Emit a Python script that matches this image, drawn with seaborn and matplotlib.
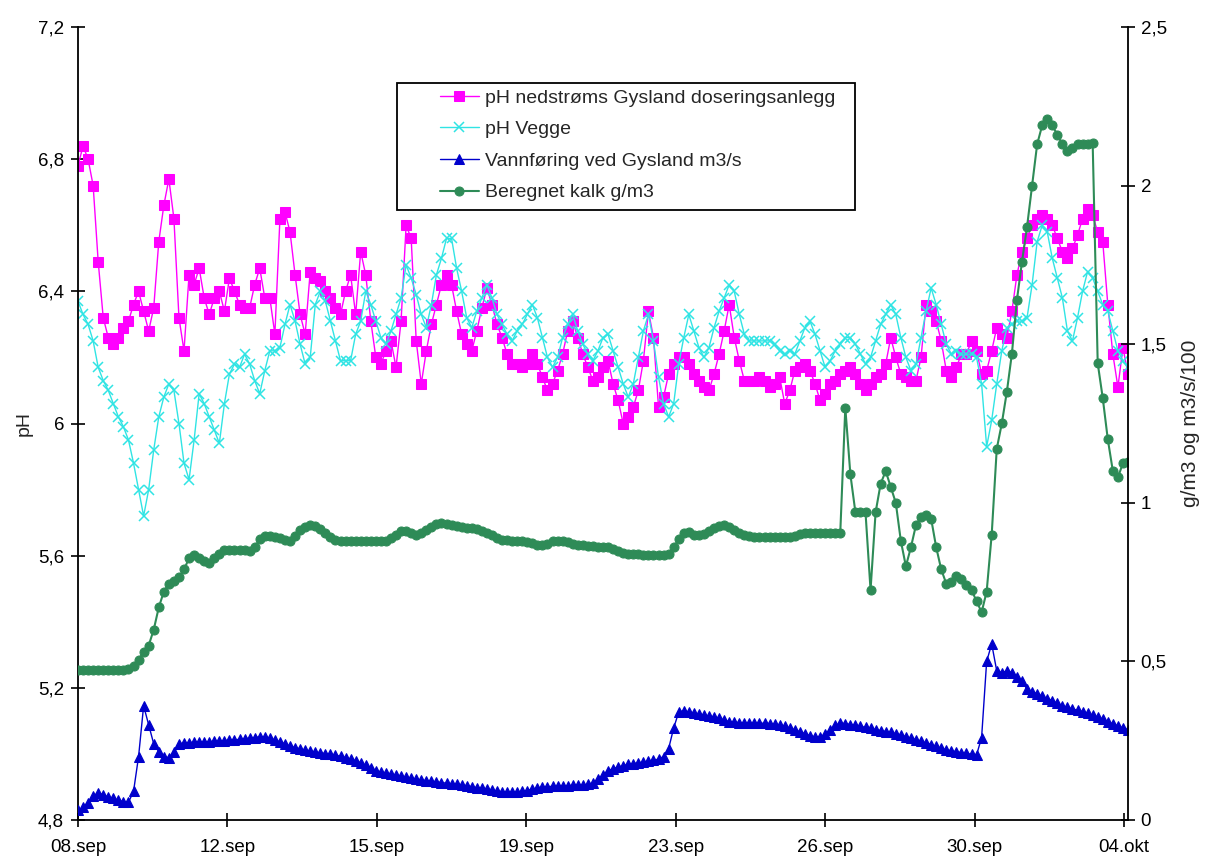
import numpy as np
import matplotlib
matplotlib.use("Agg")
import matplotlib.pyplot as plt
import seaborn as sns
from matplotlib.patches import Rectangle

# time axis: days after 08.sep, every 3 hours
days = np.arange(209) * 0.125

ph_gysland = [
    6.78, 6.84, 6.80, 6.72, 6.49, 6.32, 6.26, 6.24,
    6.26, 6.29, 6.31, 6.36, 6.40, 6.34, 6.28, 6.35,
    6.55, 6.66, 6.74, 6.62, 6.32, 6.22, 6.45, 6.42,
    6.47, 6.38, 6.33, 6.38, 6.40, 6.34, 6.44, 6.40,
    6.36, 6.35, 6.35, 6.42, 6.47, 6.38, 6.38, 6.27,
    6.62, 6.64, 6.58, 6.45, 6.33, 6.27, 6.46, 6.44,
    6.43, 6.40, 6.38, 6.35, 6.33, 6.40, 6.45, 6.33,
    6.52, 6.45, 6.31, 6.20, 6.18, 6.22, 6.25, 6.17,
    6.31, 6.60, 6.56, 6.25, 6.12, 6.22, 6.30, 6.36,
    6.42, 6.45, 6.42, 6.34, 6.27, 6.24, 6.22, 6.28,
    6.35, 6.41, 6.36, 6.30, 6.26, 6.21, 6.18, 6.18,
    6.17, 6.18, 6.21, 6.18, 6.14, 6.10, 6.12, 6.16,
    6.21, 6.28, 6.31, 6.26, 6.21, 6.17, 6.13, 6.14,
    6.17, 6.19, 6.12, 6.07, 6.00, 6.02, 6.05, 6.10,
    6.19, 6.34, 6.26, 6.05, 6.08, 6.15, 6.18, 6.20,
    6.20, 6.18, 6.15, 6.13, 6.11, 6.10, 6.15, 6.21,
    6.28, 6.36, 6.26, 6.19, 6.13, 6.13, 6.13, 6.14,
    6.13, 6.11, 6.12, 6.14, 6.06, 6.10, 6.16, 6.17,
    6.18, 6.16, 6.12, 6.07, 6.09, 6.12, 6.13, 6.15,
    6.16, 6.17, 6.15, 6.12, 6.10, 6.12, 6.14, 6.15,
    6.18, 6.26, 6.20, 6.15, 6.14, 6.13, 6.13, 6.20,
    6.36, 6.34, 6.31, 6.25, 6.16, 6.14, 6.17, 6.21,
    6.21, 6.25, 6.22, 6.15, 6.16, 6.22, 6.29, 6.27,
    6.26, 6.34, 6.45, 6.52, 6.56, 6.60, 6.62, 6.63,
    6.62, 6.60, 6.56, 6.52, 6.50, 6.53, 6.57, 6.62,
    6.65, 6.63, 6.58, 6.55, 6.36, 6.21, 6.11, 6.23,
    6.15]

ph_vegge = [
    6.37, 6.33, 6.30, 6.25, 6.17, 6.13, 6.10, 6.06,
    6.02, 5.99, 5.95, 5.88, 5.80, 5.72, 5.80, 5.92,
    6.02, 6.08, 6.12, 6.10, 6.00, 5.88, 5.83, 5.95,
    6.09, 6.06, 6.02, 5.98, 5.94, 6.06, 6.15, 6.18,
    6.17, 6.21, 6.18, 6.13, 6.09, 6.16, 6.22, 6.22,
    6.23, 6.30, 6.36, 6.31, 6.24, 6.18, 6.20, 6.36,
    6.40, 6.37, 6.31, 6.25, 6.19, 6.19, 6.19, 6.27,
    6.31, 6.40, 6.36, 6.31, 6.26, 6.24, 6.28, 6.33,
    6.38, 6.48, 6.44, 6.39, 6.33, 6.29, 6.36, 6.45,
    6.50, 6.56, 6.56, 6.47, 6.40, 6.32, 6.29, 6.34,
    6.38, 6.42, 6.38, 6.33, 6.30, 6.27, 6.25, 6.28,
    6.30, 6.33, 6.36, 6.32, 6.26, 6.20, 6.17, 6.20,
    6.26, 6.30, 6.33, 6.28, 6.24, 6.21, 6.19, 6.22,
    6.26, 6.27, 6.22, 6.17, 6.12, 6.08, 6.12, 6.20,
    6.28, 6.33, 6.25, 6.14, 6.06, 6.02, 6.06, 6.18,
    6.26, 6.33, 6.28, 6.23, 6.20, 6.23, 6.29, 6.34,
    6.38, 6.42, 6.40, 6.33, 6.27, 6.25, 6.25, 6.25,
    6.25, 6.25, 6.24, 6.22, 6.21, 6.22, 6.21, 6.25,
    6.29, 6.31, 6.27, 6.22, 6.17, 6.19, 6.22, 6.24,
    6.26, 6.26, 6.24, 6.21, 6.18, 6.20, 6.25, 6.30,
    6.33, 6.36, 6.33, 6.26, 6.20, 6.16, 6.18, 6.26,
    6.34, 6.41, 6.36, 6.30, 6.24, 6.21, 6.22, 6.21,
    6.21, 6.21, 6.20, 6.12, 5.93, 6.01, 6.12, 6.22,
    6.29, 6.30, 6.31, 6.31, 6.32, 6.42, 6.55, 6.60,
    6.58, 6.50, 6.44, 6.38, 6.28, 6.25, 6.32, 6.40,
    6.46, 6.44, 6.40, 6.36, 6.34, 6.28, 6.22, 6.19,
    6.17]

vannforing = [
    0.030, 0.040, 0.055, 0.075, 0.085, 0.080, 0.072, 0.068,
    0.062, 0.058, 0.056, 0.090, 0.200, 0.360, 0.300, 0.240,
    0.215, 0.200, 0.196, 0.215, 0.240, 0.243, 0.244, 0.245,
    0.246, 0.246, 0.247, 0.248, 0.249, 0.250, 0.252, 0.253,
    0.254, 0.256, 0.258, 0.260, 0.262, 0.262, 0.258, 0.252,
    0.246, 0.240, 0.233, 0.228, 0.224, 0.220, 0.217, 0.214,
    0.212, 0.209, 0.207, 0.204, 0.201, 0.197, 0.192, 0.187,
    0.180, 0.172, 0.164, 0.156, 0.150, 0.147, 0.144, 0.141,
    0.138, 0.135, 0.132, 0.129, 0.126, 0.124, 0.122, 0.120,
    0.118, 0.116, 0.114, 0.112, 0.110, 0.108, 0.105, 0.102,
    0.100, 0.097, 0.094, 0.091, 0.089, 0.088, 0.088, 0.088,
    0.090, 0.093, 0.097, 0.101, 0.104, 0.105, 0.106, 0.107,
    0.107, 0.108, 0.109, 0.110, 0.110, 0.112, 0.117, 0.128,
    0.142, 0.155, 0.162, 0.167, 0.171, 0.175, 0.178, 0.180,
    0.182, 0.185, 0.188, 0.192, 0.200, 0.225, 0.290, 0.340,
    0.345, 0.340, 0.336, 0.333, 0.330, 0.327, 0.324, 0.320,
    0.315, 0.310, 0.308, 0.307, 0.306, 0.305, 0.305, 0.305,
    0.305, 0.304, 0.302, 0.299, 0.295, 0.290, 0.284, 0.278,
    0.272, 0.266, 0.262, 0.262, 0.270, 0.285, 0.298, 0.305,
    0.304, 0.301, 0.298, 0.295, 0.292, 0.289, 0.285, 0.282,
    0.279, 0.276, 0.272, 0.268, 0.263, 0.258, 0.253, 0.248,
    0.243, 0.238, 0.232, 0.226, 0.221, 0.218, 0.215, 0.212,
    0.210, 0.207, 0.205, 0.260, 0.500, 0.555, 0.470, 0.465,
    0.470, 0.465, 0.452, 0.438, 0.412, 0.405, 0.398, 0.390,
    0.383, 0.376, 0.368, 0.360, 0.355, 0.350, 0.346, 0.342,
    0.336, 0.330, 0.325, 0.318, 0.310, 0.303, 0.297, 0.290,
    0.284]

kalk = [
    0.473, 0.473, 0.473, 0.473, 0.473, 0.473, 0.473, 0.473,
    0.473, 0.473, 0.475, 0.485, 0.505, 0.530, 0.550, 0.600,
    0.670, 0.720, 0.745, 0.755, 0.765, 0.790, 0.825, 0.835,
    0.825, 0.815, 0.810, 0.825, 0.840, 0.850, 0.852, 0.850,
    0.850, 0.850, 0.848, 0.860, 0.885, 0.895, 0.895, 0.893,
    0.888, 0.882, 0.880, 0.895, 0.915, 0.925, 0.930, 0.928,
    0.918, 0.905, 0.893, 0.882, 0.880, 0.880, 0.880, 0.880,
    0.880, 0.880, 0.880, 0.880, 0.879, 0.880, 0.888, 0.900,
    0.912, 0.912, 0.905, 0.900, 0.905, 0.915, 0.925, 0.932,
    0.935, 0.933, 0.930, 0.927, 0.924, 0.921, 0.920, 0.918,
    0.912, 0.905, 0.898, 0.890, 0.884, 0.882, 0.880, 0.879,
    0.878, 0.876, 0.872, 0.868, 0.866, 0.870, 0.878, 0.879,
    0.878, 0.875, 0.870, 0.868, 0.866, 0.864, 0.863, 0.862,
    0.862, 0.860, 0.855, 0.848, 0.842, 0.840, 0.839, 0.838,
    0.837, 0.836, 0.836, 0.835, 0.835, 0.838, 0.860, 0.885,
    0.906, 0.908, 0.900, 0.898, 0.902, 0.910, 0.920, 0.928,
    0.930, 0.925, 0.915, 0.905, 0.899, 0.895, 0.893, 0.892,
    0.892, 0.892, 0.892, 0.892, 0.892, 0.892, 0.895, 0.902,
    0.905, 0.905, 0.905, 0.905, 0.905, 0.905, 0.905, 0.905,
    1.300, 1.090, 0.970, 0.970, 0.970, 0.725, 0.970, 1.060,
    1.100, 1.050, 1.000, 0.880, 0.800, 0.860, 0.930, 0.955,
    0.960, 0.950, 0.860, 0.790, 0.745, 0.750, 0.770, 0.760,
    0.740, 0.725, 0.690, 0.655, 0.720, 0.900, 1.170, 1.250,
    1.350, 1.470, 1.640, 1.760, 1.870, 2.000, 2.130, 2.190,
    2.210, 2.190, 2.160, 2.130, 2.110, 2.120, 2.130, 2.130,
    2.130, 2.135, 1.440, 1.330, 1.200, 1.100, 1.080, 1.125,
    1.130]

x_tick_labels = ["08.sep", "12.sep", "15.sep", "19.sep", "23.sep",
                 "26.sep", "30.sep", "04.okt"]
ph_ticks = [4.8, 5.2, 5.6, 6.0, 6.4, 6.8, 7.2]
ph_tick_labels = ["4,8", "5,2", "5,6", "6", "6,4", "6,8", "7,2"]
right_ticks = [0, 0.5, 1, 1.5, 2, 2.5]
right_tick_labels = ["0", "0,5", "1", "1,5", "2", "2,5"]

labels = ["pH nedstrøms Gysland doseringsanlegg", "pH Vegge",
          "Vannføring ved Gysland m3/s", "Beregnet kalk g/m3"]

sns.set_style("white")
plt.rcParams['font.family'] = ['Liberation Sans', 'DejaVu Sans']

W, H = 1209, 865
fig = plt.figure(figsize=(W / 100, H / 100), dpi=100)
ax = fig.add_axes([78 / W, 1 - 820 / H, 1050 / W, 793 / H])
ax2 = ax.twinx()

C_MAG = '#FF00FF'
C_CYAN = '#30E4E4'
C_BLUE = '#0000CC'
C_GREEN = '#2E8B57'

sns.lineplot(x=days, y=ph_gysland, ax=ax, color=C_MAG, marker='s', markersize=7.5,
             markeredgecolor=C_MAG, linewidth=1, errorbar=None, legend=False)
sns.lineplot(x=days, y=ph_vegge, ax=ax, color=C_CYAN, marker='x', markersize=6.5,
             markeredgecolor=C_CYAN, markeredgewidth=1.1, linewidth=1,
             errorbar=None, legend=False)
sns.lineplot(x=days, y=vannforing, ax=ax2, color=C_BLUE, marker='^', markersize=7,
             markeredgecolor=C_BLUE, linewidth=1, errorbar=None, legend=False)
sns.lineplot(x=days, y=kalk, ax=ax2, color=C_GREEN, marker='o', markersize=6.5,
             markeredgecolor=C_GREEN, linewidth=1.5, errorbar=None, legend=False)

ax.set_xlim(0, 26)
ax.set_ylim(4.8, 7.2)
ax2.set_ylim(0, 2.5)

ax.set_xticks(np.arange(len(x_tick_labels)) * 3.7)
ax.set_xticklabels(x_tick_labels)
ax.set_yticks(ph_ticks)
ax.set_yticklabels(ph_tick_labels)
ax2.set_yticks(right_ticks)
ax2.set_yticklabels(right_tick_labels)

for a in (ax, ax2):
    for s in a.spines.values():
        s.set_color('black')
        s.set_linewidth(1.3)
    a.spines['top'].set_visible(False)
ax.spines['right'].set_visible(False)
ax2.spines['left'].set_visible(False)
ax2.spines['bottom'].set_visible(False)

ax.tick_params(axis='x', bottom=True, direction='inout', length=10, width=1.2,
               labelsize=13.5, pad=9, colors='black')
ax.tick_params(axis='y', left=True, direction='inout', length=10, width=1.2,
               labelsize=13.5, pad=5, colors='black')
ax2.tick_params(axis='y', right=True, direction='inout', length=10, width=1.2,
                labelsize=13.5, pad=4, colors='black')

ax.set_xlabel('')
ax.set_ylabel('pH', fontsize=14, labelpad=4)
ax2.set_ylabel('g/m3 og m3/s/100', fontsize=15, labelpad=10)

# legend box
rect = Rectangle((397 / W, 1 - 210 / H), 458 / W, 127 / H, transform=fig.transFigure,
                 facecolor='white', edgecolor='black', linewidth=1.3, zorder=4)
fig.add_artist(rect)
handles = [ax.lines[0], ax.lines[1], ax2.lines[0], ax2.lines[1]]
leg = fig.legend(handles, labels, loc='upper left',
                 bbox_to_anchor=(440 / W, 1 - 89 / H), frameon=False, fontsize=14,
                 handlelength=2.0, handletextpad=0.3, labelspacing=0.72,
                 borderpad=0, borderaxespad=0)
leg.set_zorder(6)

fig.savefig('out.png', dpi=100)
